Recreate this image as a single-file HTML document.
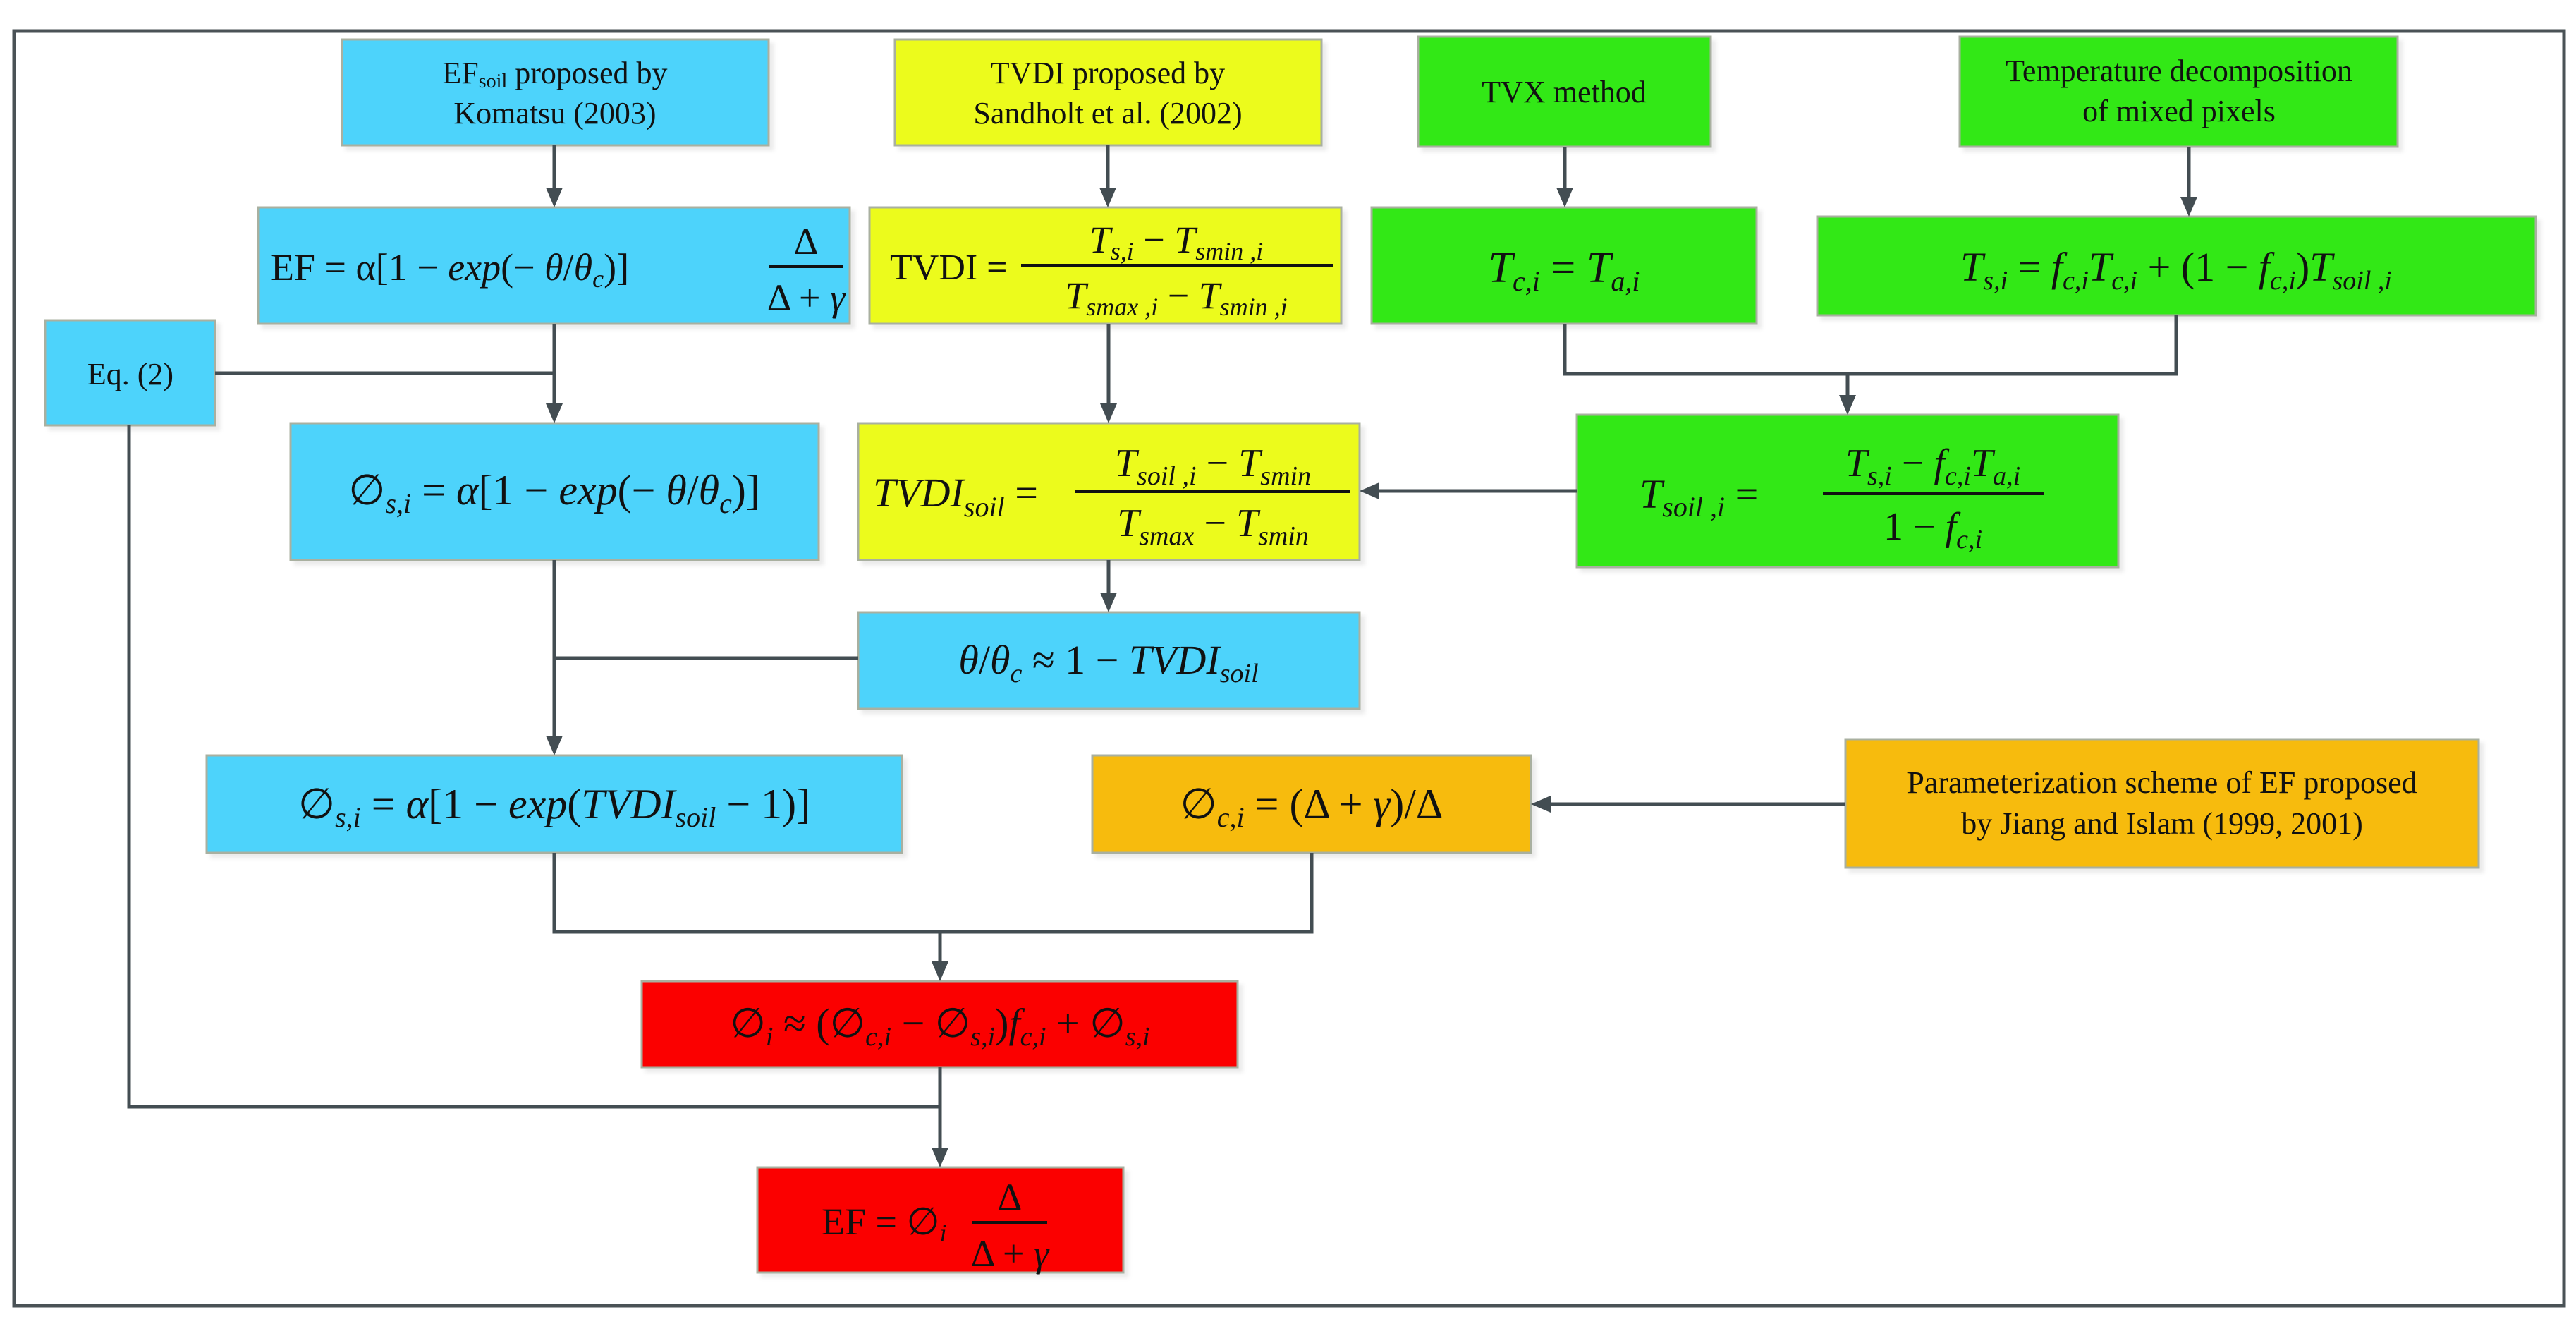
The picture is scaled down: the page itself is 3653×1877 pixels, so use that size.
<!DOCTYPE html>
<html><head><meta charset="utf-8"><style>
html,body{margin:0;padding:0;background:#fff;}
svg{display:block;}
text{font-family:"Liberation Serif",serif;fill:#111;}
.m{font-style:italic;}
.u{font-style:normal;}
</style></head><body>
<svg width="3653" height="1877" viewBox="0 0 3653 1877" xmlns="http://www.w3.org/2000/svg">
<defs>
<marker id="a" markerWidth="10" markerHeight="10" refX="9" refY="5" orient="auto" markerUnits="userSpaceOnUse" viewBox="0 0 10 10">
</marker>
<filter id="sh" x="-5%" y="-5%" width="115%" height="120%"><feDropShadow dx="6" dy="6" stdDeviation="3" flood-color="#000" flood-opacity="0.08"/></filter>
</defs>
<rect x="0" y="0" width="3653" height="1877" fill="#fff"/>
<rect x="20" y="44" width="3616" height="1807" fill="none" stroke="#4a5256" stroke-width="5"/>

<g stroke="#a9b0a0" stroke-width="3" filter="url(#sh)">
<rect x="485" y="56" width="605" height="150" fill="#4dd3fb"/>
<rect x="1269" y="56" width="605" height="150" fill="#ecfb1f"/>
<rect x="2011" y="52" width="415" height="156" fill="#32e813"/>
<rect x="2779" y="52" width="621" height="156" fill="#32e813"/>
<rect x="366" y="294" width="839" height="165" fill="#4dd3fb"/>
<rect x="1233" y="294" width="669" height="165" fill="#ecfb1f"/>
<rect x="1945" y="294" width="546" height="165" fill="#32e813"/>
<rect x="2577" y="307" width="1019" height="140" fill="#32e813"/>
<rect x="64" y="454" width="241" height="149" fill="#4dd3fb"/>
<rect x="412" y="600" width="749" height="194" fill="#4dd3fb"/>
<rect x="1217" y="600" width="711" height="194" fill="#ecfb1f"/>
<rect x="2236" y="588" width="768" height="216" fill="#32e813"/>
<rect x="1217" y="868" width="711" height="137" fill="#4dd3fb"/>
<rect x="293" y="1071" width="986" height="138" fill="#4dd3fb"/>
<rect x="1549" y="1071" width="622" height="138" fill="#f7bb08"/>
<rect x="2617" y="1048" width="898" height="182" fill="#f7bb08"/>
<rect x="910" y="1391" width="845" height="122" fill="#fb0303"/>
<rect x="1074" y="1655" width="519" height="149" fill="#fb0303"/>
</g>

<g stroke="#434d52" stroke-width="5" fill="none">
<path d="M786 206V270M1571 206V270M2219 208V270M3104 208V283"/>
<path d="M786 459V576M305 529H786M1572 459V576"/>
<path d="M2219 459V530H3086V447M2620 530V564"/>
<path d="M2236 696H1952M1572 794V844"/>
<path d="M786 794V1047M1217 933H786"/>
<path d="M786 1209V1321H1860V1209M1333 1321V1367"/>
<path d="M2617 1140H2195"/>
<path d="M183 603V1569H1333M1333 1513V1631"/>
</g>
<g fill="#434d52">
<path d="M774 266L798 266L786 294Z"/>
<path d="M1559 266L1583 266L1571 294Z"/>
<path d="M2207 266L2231 266L2219 294Z"/>
<path d="M3092 279L3116 279L3104 307Z"/>
<path d="M774 572L798 572L786 600Z"/>
<path d="M1560 572L1584 572L1572 600Z"/>
<path d="M2608 560L2632 560L2620 588Z"/>
<path d="M1956 684L1956 708L1928 696Z"/>
<path d="M1560 840L1584 840L1572 868Z"/>
<path d="M774 1043L798 1043L786 1071Z"/>
<path d="M1321 1363L1345 1363L1333 1391Z"/>
<path d="M2199 1128L2199 1152L2171 1140Z"/>
<path d="M1321 1627L1345 1627L1333 1655Z"/>
</g>

<!-- top text boxes -->
<g font-size="44" text-anchor="middle">
<text x="787" y="118">EF<tspan font-size="28" dy="6">soil</tspan><tspan dy="-6"> proposed by</tspan></text>
<text x="787" y="175">Komatsu (2003)</text>
<text x="1571" y="118">TVDI proposed by</text>
<text x="1571" y="175">Sandholt et al. (2002)</text>
<text x="2218" y="145">TVX method</text>
<text x="3090" y="115">Temperature decomposition</text>
<text x="3090" y="172">of mixed pixels</text>
<text x="185" y="545">Eq. (2)</text>
<text x="3066" y="1124">Parameterization scheme of EF proposed</text>
<text x="3066" y="1182">by Jiang and Islam (1999, 2001)</text>
</g>

<!-- EF formula -->
<text x="384" y="397" font-size="54">EF = α[1 − <tspan class="m">exp</tspan>(− <tspan class="m">θ</tspan>/<tspan class="m">θ</tspan><tspan class="m" font-size="36" dy="10">c</tspan><tspan dy="-10">)]</tspan></text>
<line x1="1090" y1="378" x2="1196" y2="378" stroke="#111" stroke-width="4"/>
<text x="1143" y="360" font-size="54" text-anchor="middle">Δ</text>
<text x="1143" y="440" font-size="54" text-anchor="middle">Δ + <tspan class="m">γ</tspan></text>

<!-- TVDI formula -->
<text x="1262" y="396" font-size="52">TVDI =</text>
<line x1="1448" y1="376" x2="1890" y2="376" stroke="#111" stroke-width="4"/>
<text x="1668" y="358" font-size="54" text-anchor="middle" class="m">T<tspan font-size="36" dy="10">s,i</tspan><tspan dy="-10" class="u"> − </tspan>T<tspan font-size="36" dy="10">smin ,i</tspan></text>
<text x="1668" y="437" font-size="54" text-anchor="middle" class="m">T<tspan font-size="36" dy="10">smax ,i</tspan><tspan dy="-10" class="u"> − </tspan>T<tspan font-size="36" dy="10">smin ,i</tspan></text>

<!-- Tc -->
<text x="2218" y="400" font-size="62" text-anchor="middle" class="m">T<tspan font-size="40" dy="12">c,i</tspan><tspan dy="-12" class="u"> = </tspan>T<tspan font-size="40" dy="12">a,i</tspan></text>

<!-- Ts -->
<text x="3086" y="398" font-size="58" text-anchor="middle" class="m">T<tspan font-size="38" dy="12">s,i</tspan><tspan dy="-12" class="u"> = </tspan>f<tspan font-size="38" dy="12">c,i</tspan><tspan dy="-12">T</tspan><tspan font-size="38" dy="12">c,i</tspan><tspan dy="-12" class="u"> + (1 − </tspan>f<tspan font-size="38" dy="12">c,i</tspan><tspan dy="-12" class="u">)</tspan>T<tspan font-size="38" dy="12">soil ,i</tspan></text>

<!-- phi_s -->
<text x="786" y="715" font-size="60" text-anchor="middle">∅<tspan class="m" font-size="40" dy="12">s,i</tspan><tspan dy="-12"> = </tspan><tspan class="m">α</tspan>[1 − <tspan class="m">exp</tspan>(− <tspan class="m">θ</tspan>/<tspan class="m">θ</tspan><tspan class="m" font-size="40" dy="12">c</tspan><tspan dy="-12">)]</tspan></text>

<!-- TVDIsoil -->
<text x="1238" y="718" font-size="58" class="m">TVDI<tspan font-size="40" dy="14">soil</tspan><tspan dy="-14" class="u"> =</tspan></text>
<line x1="1525" y1="697" x2="1915" y2="697" stroke="#111" stroke-width="4"/>
<text x="1720" y="675" font-size="56" text-anchor="middle" class="m">T<tspan font-size="38" dy="12">soil ,i</tspan><tspan dy="-12" class="u"> − </tspan>T<tspan font-size="38" dy="12">smin</tspan></text>
<text x="1720" y="760" font-size="56" text-anchor="middle" class="m">T<tspan font-size="38" dy="12">smax</tspan><tspan dy="-12" class="u">  − </tspan>T<tspan font-size="38" dy="12">smin</tspan></text>

<!-- Tsoil -->
<text x="2325" y="720" font-size="58" class="m">T<tspan font-size="40" dy="12">soil ,i</tspan><tspan dy="-12" class="u"> =</tspan></text>
<line x1="2585" y1="700" x2="2898" y2="700" stroke="#111" stroke-width="4"/>
<text x="2741" y="675" font-size="56" text-anchor="middle" class="m">T<tspan font-size="38" dy="12">s,i</tspan><tspan dy="-12" class="u"> − </tspan>f<tspan font-size="38" dy="12">c,i</tspan><tspan dy="-12">T</tspan><tspan font-size="38" dy="12">a,i</tspan></text>
<text x="2741" y="765" font-size="56" text-anchor="middle"><tspan>1 − </tspan><tspan class="m">f</tspan><tspan class="m" font-size="38" dy="12">c,i</tspan></text>

<!-- theta -->
<text x="1572" y="955" font-size="58" text-anchor="middle"><tspan class="m">θ</tspan>/<tspan class="m">θ</tspan><tspan class="m" font-size="38" dy="12">c</tspan><tspan dy="-12"> ≈ 1 − </tspan><tspan class="m">TVDI</tspan><tspan class="m" font-size="38" dy="12">soil</tspan></text>

<!-- phi_s2 -->
<text x="786" y="1160" font-size="60" text-anchor="middle">∅<tspan class="m" font-size="40" dy="12">s,i</tspan><tspan dy="-12"> = </tspan><tspan class="m">α</tspan>[1 − <tspan class="m">exp</tspan>(<tspan class="m">TVDI</tspan><tspan class="m" font-size="40" dy="12">soil</tspan><tspan dy="-12"> − 1)]</tspan></text>

<!-- phi_c -->
<text x="1860" y="1160" font-size="60" text-anchor="middle">∅<tspan class="m" font-size="40" dy="12">c,i</tspan><tspan dy="-12"> = (Δ + </tspan><tspan class="m">γ</tspan>)/Δ</text>

<!-- red1 -->
<text x="1333" y="1470" font-size="58" text-anchor="middle">∅<tspan class="m" font-size="38" dy="12">i</tspan><tspan dy="-12"> ≈ (∅</tspan><tspan class="m" font-size="38" dy="12">c,i</tspan><tspan dy="-12"> − ∅</tspan><tspan class="m" font-size="38" dy="12">s,i</tspan><tspan dy="-12">)</tspan><tspan class="m">f</tspan><tspan class="m" font-size="38" dy="12">c,i</tspan><tspan dy="-12"> + ∅</tspan><tspan class="m" font-size="38" dy="12">s,i</tspan></text>

<!-- red2 -->
<text x="1165" y="1750" font-size="54">EF = ∅<tspan class="m" font-size="36" dy="10">i</tspan></text>
<line x1="1378" y1="1733" x2="1485" y2="1733" stroke="#111" stroke-width="4"/>
<text x="1432" y="1715" font-size="54" text-anchor="middle">Δ</text>
<text x="1432" y="1795" font-size="54" text-anchor="middle">Δ + <tspan class="m">γ</tspan></text>
</svg>
</body></html>
